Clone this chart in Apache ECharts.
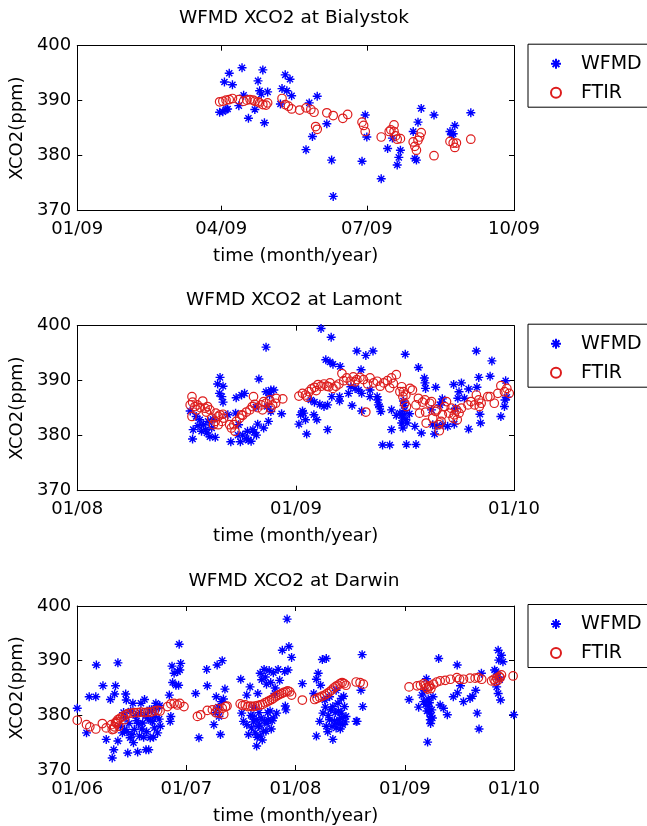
<!DOCTYPE html>
<html><head><meta charset="utf-8">
<script src="https://cdn.jsdelivr.net/npm/echarts@6/dist/echarts.min.js"></script>
<style>html,body{margin:0;padding:0;background:#fff}#c{width:647px;height:826px}</style>
</head><body><div id="c"></div>
<script>
// ---------- data ----------
const yTicks = [370, 380, 390, 400];
const bialystokXTicks = ['2009-01-01','2009-04-01','2009-07-01','2009-10-01'];
const lamontXTicks = ['2008-01-01','2009-01-01','2010-01-01'];
const darwinXTicks = ['2006-01-01','2007-01-01','2008-01-01','2009-01-01','2010-01-01'];
const panelTitles = ['WFMD XCO2 at Bialystok','WFMD XCO2 at Lamont','WFMD XCO2 at Darwin'];
const seriesNames = ['WFMD','FTIR'];
const xAxisName = 'time (month/year)';
const yAxisName = 'XCO2(ppm)';

const bialystokWFMD = [
['2009-03-31',387.9],['2009-04-03',393.4],['2009-04-06',395.0],['2009-04-08',392.9],['2009-04-05',388.5],['2009-04-04',388.4],['2009-04-02',388.0],['2009-04-14',396.0],['2009-04-12',389.1],['2009-04-15',391.0],['2009-04-18',386.8],['2009-04-22',388.4],['2009-04-24',393.6],['2009-04-27',395.6],['2009-04-25',391.8],['2009-04-26',391.2],['2009-04-28',386.0],['2009-04-30',391.6],['2009-05-11',394.7],['2009-05-14',393.9],['2009-05-09',392.2],['2009-05-12',391.8],['2009-05-15',390.9],['2009-05-08',389.4],['2009-05-26',389.6],['2009-05-31',390.8],['2009-06-06',385.8],['2009-05-28',383.5],['2009-05-24',381.1],['2009-06-09',379.2],['2009-06-10',372.6],['2009-06-28',379.0],['2009-06-30',387.4],['2009-07-01',383.4],['2009-07-10',375.8],['2009-07-14',381.3],['2009-07-17',383.2],['2009-07-20',378.3],['2009-07-21',379.7],['2009-07-22',381.0],['2009-07-30',384.4],['2009-08-02',386.1],['2009-08-04',388.6],['2009-07-31',379.5],['2009-08-01',379.2],['2009-08-12',387.4],['2009-08-22',384.4],['2009-08-24',384.0],['2009-08-25',385.5],['2009-08-23',383.8],['2009-09-04',387.8]
];
const bialystokFTIR = [
['2009-03-31',389.8],['2009-04-02',389.9],['2009-04-04',390.1],['2009-04-06',390.2],['2009-04-08',390.4],['2009-04-12',390.2],['2009-04-15',389.9],['2009-04-17',390.1],['2009-04-19',390.2],['2009-04-21',390.1],['2009-04-22',389.9],['2009-04-24',389.8],['2009-04-25',389.6],['2009-04-27',389.3],['2009-04-29',389.2],['2009-04-30',389.6],['2009-05-09',390.4],['2009-05-11',389.3],['2009-05-13',389.0],['2009-05-15',388.5],['2009-05-20',388.3],['2009-05-24',388.7],['2009-05-27',388.4],['2009-05-29',387.9],['2009-05-30',385.3],['2009-05-31',384.8],['2009-06-06',387.8],['2009-06-10',387.3],['2009-06-16',386.8],['2009-06-19',387.5],['2009-06-28',386.1],['2009-06-29',385.5],['2009-06-30',384.4],['2009-07-10',383.4],['2009-07-15',384.4],['2009-07-16',384.7],['2009-07-18',385.6],['2009-07-18',384.4],['2009-07-19',383.6],['2009-07-20',383.0],['2009-07-22',383.1],['2009-07-30',382.5],['2009-07-31',381.7],['2009-08-01',381.0],['2009-08-02',382.8],['2009-08-03',383.4],['2009-08-04',384.2],['2009-08-12',380.0],['2009-08-22',382.6],['2009-08-24',382.3],['2009-08-25',381.5],['2009-08-26',382.3],['2009-09-04',383.0]
];

const lamontWFMD = [
['2008-11-12',396.1],['2008-08-27',390.6],['2008-08-23',389.4],['2008-09-01',389.0],['2008-08-26',387.7],['2008-08-30',387.1],['2008-09-01',386.1],['2008-10-31',390.3],['2008-09-23',386.9],['2008-10-02',387.4],['2008-10-07',387.7],['2008-11-12',388.0],['2008-11-20',388.3],['2008-11-18',387.4],['2008-11-20',384.4],['2008-11-16',382.6],['2008-11-08',381.4],['2008-10-29',382.1],['2008-10-27',380.1],['2008-10-13',379.2],['2008-10-04',380.1],['2008-09-30',378.9],['2008-09-14',378.9],['2008-09-26',380.1],['2008-09-22',384.1],['2008-07-13',381.1],['2008-07-12',379.4],['2008-07-08',384.5],['2008-07-30',382.0],['2008-08-03',381.1],['2008-08-10',379.8],['2008-08-19',379.7],['2008-08-07',382.6],['2008-08-13',381.4],['2008-07-24',382.9],['2008-09-09',383.8],['2008-10-12',380.8],['2008-10-21',381.1],['2008-10-10',379.5],['2008-11-14',385.3],['2008-11-25',388.3],['2008-12-08',384.0],
['2008-07-18',383.5],['2008-07-21',381.8],['2008-08-05',380.5],['2008-08-15',383.0],['2008-07-27',380.8],['2008-10-18',379.0],['2008-10-23',380.6],['2008-09-27',382.0],['2008-10-26',385.2],
['2009-02-12',399.5],['2009-03-01',397.9],['2009-02-20',393.8],['2009-02-27',393.4],['2009-03-04',393.0],['2009-03-16',392.6],['2009-04-13',395.4],['2009-04-28',394.6],['2009-05-10',395.4],['2009-04-20',392.0],['2009-04-10',388.6],['2009-04-16',388.3],['2009-03-30',387.7],['2009-04-21',387.7],['2009-05-05',388.3],['2009-01-26',386.5],['2009-02-01',386.1],['2009-02-10',385.7],['2009-02-17',385.3],['2009-02-23',385.6],['2009-03-02',387.1],['2009-03-15',387.1],['2009-03-15',386.3],['2009-04-05',385.5],['2009-04-21',384.5],['2009-01-12',384.5],['2009-01-09',383.8],['2009-01-14',384.1],['2009-01-17',382.9],['2009-01-06',382.1],['2009-01-31',383.8],['2009-02-05',382.9],['2009-01-19',380.3],['2009-02-23',381.1],['2009-04-03',388.9],['2009-05-05',387.1],['2009-05-17',387.1],['2009-05-18',386.5],['2009-05-21',385.3],['2009-05-23',384.4],['2009-05-26',378.3],['2009-06-07',378.3],['2009-06-10',381.1],['2009-06-10',384.7],['2009-05-19',385.6],['2009-06-24',384.1],['2009-06-27',382.3],['2009-06-28',383.2],['2009-06-18',383.7],
['2009-07-03',394.8],['2009-07-25',392.4],['2009-08-04',390.5],['2009-08-05',389.6],['2009-08-06',388.6],['2009-08-23',388.8],['2009-09-22',389.3],['2009-10-05',389.6],['2009-10-01',388.0],['2009-10-17',388.5],['2009-10-31',388.8],['2009-11-03',390.6],['2009-10-30',395.4],['2009-11-25',393.6],['2009-11-22',390.8],['2009-12-18',390.0],['2009-12-17',386.5],['2009-12-20',387.0],['2009-12-16',385.3],['2009-12-10',383.5],['2009-11-05',383.9],['2009-11-06',382.3],['2009-10-17',381.2],['2009-07-05',378.4],['2009-07-21',378.4],['2009-07-19',381.7],['2009-07-30',380.5],['2009-06-29',381.4],['2009-06-28',383.8],['2009-07-10',384.0],['2009-08-18',382.0],['2009-08-21',380.3],['2009-09-04',382.0],['2009-09-12',381.7],['2009-09-23',382.1],['2009-09-02',386.1],['2009-09-03',386.7],['2009-08-30',385.6],['2009-08-16',384.7],['2009-09-29',386.8],['2009-10-10',386.8],['2009-09-25',385.0],['2009-08-25',381.8],
['2009-07-01',385.5],['2009-07-02',384.6],['2009-07-04',383.0],['2009-06-30',386.3],['2009-07-06',382.3]
];
const lamontFTIR = [
['2008-07-11',387.1],['2008-07-08',385.6],['2008-07-12',386.1],['2008-07-16',385.3],['2008-07-20',385.6],['2008-07-25',385.1],['2008-07-29',386.3],['2008-08-02',385.0],['2008-08-06',385.3],['2008-08-10',384.7],['2008-07-11',383.5],['2008-08-13',383.2],['2008-08-19',382.6],['2008-08-24',382.0],['2008-08-27',383.8],['2008-09-01',383.9],['2008-08-20',384.1],['2008-08-16',382.0],['2008-08-30',382.6],['2008-07-19',384.7],['2008-08-04',384.3],['2008-08-24',383.5],['2008-09-02',383.2],['2008-09-12',382.0],['2008-09-15',381.4],['2008-09-19',382.0],['2008-09-21',380.8],['2008-09-23',382.6],['2008-09-29',383.2],['2008-10-02',383.8],['2008-10-04',383.7],['2008-10-10',384.3],['2008-10-16',384.7],['2008-10-20',385.3],['2008-10-22',387.1],['2008-10-24',385.7],['2008-10-29',385.1],['2008-11-04',385.6],['2008-11-06',384.7],['2008-11-08',386.2],['2008-11-12',385.9],['2008-11-18',386.5],['2008-11-20',385.0],['2008-11-23',385.6],['2008-11-28',385.9],['2008-11-29',386.8],['2008-12-10',386.7],
['2009-01-06',387.2],['2009-01-12',387.7],['2009-01-17',387.4],['2009-01-23',388.0],['2009-01-27',388.5],['2009-02-01',388.8],['2009-02-07',389.3],['2009-02-12',389.0],['2009-02-17',389.4],['2009-02-22',389.0],['2009-02-27',389.6],['2009-03-04',388.6],['2009-03-14',389.4],['2009-03-19',391.3],['2009-03-22',390.0],['2009-03-27',390.5],['2009-04-02',389.9],['2009-04-07',390.7],['2009-04-13',390.2],['2009-04-18',390.6],['2009-04-24',390.2],['2009-04-28',384.3],['2009-05-05',390.5],['2009-05-11',389.6],['2009-05-17',389.9],['2009-05-22',389.0],['2009-05-28',389.6],['2009-06-03',390.0],['2009-06-10',390.5],['2009-06-18',391.1],['2009-06-24',388.0],['2009-06-29',387.1],
['2009-01-20',387.0],['2009-02-04',388.2],['2009-02-25',388.9],['2009-03-09',389.0],['2009-04-10',389.8],['2009-05-01',389.4],['2009-06-13',389.5],['2009-06-07',388.7],
['2009-06-27',388.9],['2009-06-30',388.0],['2009-07-04',387.4],['2009-07-11',388.6],['2009-07-15',388.3],['2009-07-02',385.9],['2009-07-05',385.3],['2009-07-21',385.6],['2009-07-25',386.8],['2009-07-27',384.1],['2009-08-01',386.1],['2009-08-05',386.5],['2009-08-07',382.3],['2009-08-06',384.3],['2009-08-13',385.9],['2009-08-16',386.2],['2009-08-18',383.2],['2009-08-23',384.4],['2009-08-25',384.7],['2009-08-28',382.0],['2009-08-29',380.9],['2009-09-01',382.6],['2009-09-03',383.8],['2009-09-07',385.3],['2009-09-10',386.2],['2009-09-14',384.1],['2009-09-18',385.0],['2009-09-21',383.2],['2009-09-23',383.8],['2009-09-27',384.7],['2009-10-01',384.1],['2009-10-05',385.0],['2009-09-28',382.9],['2009-10-16',385.6],['2009-10-21',386.2],['2009-10-27',385.6],['2009-10-30',387.4],['2009-11-03',386.5],['2009-11-04',385.3],['2009-11-07',385.9],['2009-11-18',387.1],['2009-11-22',387.1],['2009-11-29',385.9],['2009-12-05',387.7],['2009-12-10',389.1],['2009-12-16',388.0],['2009-12-20',388.6],['2009-12-24',387.7]
];

const darwinWFMD = [
['2006-01-01',381.3],['2006-02-01',376.8],['2006-02-10',383.4],['2006-03-04',383.4],['2006-03-06',389.2],['2006-03-28',385.4],['2006-04-08',375.6],['2006-04-22',382.9],['2006-04-28',372.2],['2006-05-03',373.7],['2006-05-06',383.9],['2006-05-09',385.4],['2006-05-17',389.6],['2006-05-17',375.3],['2006-06-01',376.8],['2006-06-08',377.4],['2006-06-12',383.9],['2006-06-14',382.8],['2006-06-19',373.1],['2006-06-27',375.9],['2006-07-06',382.2],['2006-07-11',377.4],['2006-07-22',373.3],['2006-07-28',376.2],['2006-08-02',382.2],['2006-08-08',378.6],['2006-08-14',382.9],['2006-08-19',373.7],['2006-08-28',373.7],['2006-09-02',375.9],['2006-09-10',378.9],['2006-09-16',377.7],['2006-09-21',382.2],['2006-09-27',376.8],['2006-10-02',379.3],['2006-11-05',383.7],['2006-11-08',378.9],['2006-11-14',389.0],['2006-11-21',387.7],['2006-11-27',385.5],['2006-12-06',385.5],['2006-12-08',393.0],['2006-12-13',389.5],['2006-12-10',388.3],
['2006-06-23',378.5],['2006-07-15',380.0],['2006-07-03',376.5],['2006-08-11',376.0],['2006-08-24',379.5],['2006-09-07',381.0],['2006-06-05',380.5],['2006-10-04',381.8],['2006-05-25',378.0],['2006-07-25',378.5],['2006-09-13',376.0],['2006-11-10',379.8],['2006-11-16',386.0],['2006-12-03',388.0],
['2006-06-10',379.5],['2006-06-16',377.0],['2006-06-29',380.8],['2006-07-08',375.0],['2006-07-19',379.0],['2006-07-30',380.5],['2006-08-05',377.5],['2006-08-17',380.0],['2006-08-21',377.0],['2006-08-31',381.0],['2006-09-04',379.0],['2006-09-19',379.8],['2006-09-24',381.3],['2006-10-06',378.0],
['2007-02-01',384.0],['2007-02-12',375.9],['2007-03-10',388.4],['2007-03-12',385.4],['2007-04-11',383.4],['2007-04-14',389.2],['2007-05-01',390.0],['2007-05-10',384.8],['2007-04-20',379.8],['2007-04-03',378.3],['2007-04-25',376.5],['2007-04-18',381.5],['2007-04-28',382.5],['2007-05-05',383.0],['2007-04-08',380.5],
['2007-12-04',397.6],['2007-11-18',391.9],['2007-12-10',392.6],['2007-12-19',390.6],['2007-07-02',386.6],['2007-08-02',385.2],['2007-09-05',387.7],['2007-09-18',388.4],['2007-10-19',387.8],['2007-11-04',388.4],['2007-09-26',385.7],['2007-11-09',386.4],['2007-11-26',388.0],['2007-12-07',388.3],['2007-07-22',383.7],['2007-07-05',380.4],['2007-07-11',378.9],['2007-07-22',378.3],['2007-08-07',377.7],['2007-08-19',376.8],['2007-08-24',374.4],['2007-09-05',376.2],['2007-09-16',377.1],['2007-09-24',377.1],['2007-08-10',379.8],['2007-10-02',379.2],['2007-10-19',379.5],['2007-10-30',380.4],['2007-11-30',381.0],['2007-11-28',381.7],
['2007-09-10',386.5],['2007-09-22',387.0],['2007-10-05',388.2],['2007-10-10',386.0],['2007-10-25',385.0],['2007-08-28',384.0],['2007-08-15',381.5],['2007-09-01',380.5],['2007-09-28',378.5],['2007-10-12',377.5],['2007-08-30',378.0],['2007-10-24',384.0],
['2007-08-05',380.0],['2007-08-13',378.8],['2007-08-22',379.2],['2007-09-03',378.2],['2007-09-08',379.5],['2007-09-12',375.5],['2007-09-19',379.0],['2007-09-30',380.5],['2007-10-08',380.8],['2007-10-15',379.0],['2007-07-28',376.5],['2007-08-26',376.0],
['2008-01-24',385.8],['2008-03-02',384.0],['2008-03-11',386.6],['2008-03-17',387.7],['2008-03-31',390.2],['2008-04-13',390.4],['2008-03-11',376.2],['2008-03-22',378.9],['2008-04-02',380.4],['2008-04-13',378.0],['2008-04-24',379.2],['2008-05-05',375.6],['2008-05-16',377.7],['2008-05-05',381.6],['2008-05-22',382.2],['2008-06-02',380.4],['2008-06-13',381.6],['2008-05-27',379.2],['2008-06-07',378.3],['2008-06-18',379.8],['2008-07-22',378.9],['2008-07-25',378.9],['2008-08-07',384.6],['2008-08-13',381.6],['2008-08-11',391.1],['2008-04-08',382.8],['2008-04-24',383.4],['2008-05-16',384.6],['2008-06-02',383.1],
['2008-04-18',377.0],['2008-05-10',379.0],['2008-04-28',381.0],['2008-05-30',377.5],['2008-06-10',383.5],['2008-03-25',385.5],
['2008-04-20',380.0],['2008-05-02',378.0],['2008-05-13',380.5],['2008-05-19',378.5],['2008-05-24',380.8],['2008-06-05',379.5],['2008-06-15',378.8],['2008-04-10',381.5],
['2009-01-15',382.9],['2009-02-16',381.5],['2009-02-27',383.7],['2009-03-05',382.5],['2009-03-14',386.7],['2009-03-18',375.1],['2009-03-22',381.6],['2009-03-25',380.4],['2009-03-27',379.2],['2009-03-29',379.8],['2009-04-05',383.4],['2009-04-24',390.4],['2009-04-29',381.9],['2009-05-10',381.3],['2009-05-23',380.1],['2009-06-25',389.2],['2009-06-12',383.4],['2009-06-26',384.1],['2009-07-06',385.4],['2009-07-16',382.5],['2009-08-07',383.1],['2009-08-15',383.5],['2009-08-26',384.6],['2009-08-31',380.4],['2009-09-06',377.5],['2009-09-14',387.7],['2009-10-28',388.3],['2009-11-09',391.9],['2009-11-20',391.0],['2009-11-25',389.8],['2009-11-11',390.1],['2009-11-04',385.2],['2009-11-09',384.0],['2009-11-17',382.8],['2009-12-31',380.1],
['2009-03-08',384.5],['2009-03-20',383.0],['2009-03-12',382.0],['2009-04-01',381.0],['2009-11-02',388.0],['2009-11-14',386.5],['2009-11-07',387.0],
['2009-03-16',380.8],['2009-03-24',382.3],['2009-03-28',378.5],['2009-04-03',379.5]
];
const darwinFTIR = [
['2006-01-01',379.1],['2006-02-01',378.3],['2006-02-12',377.9],['2006-03-04',377.5],['2006-03-26',378.5],['2006-04-08',377.7],['2006-04-25',378.3],['2006-05-03',377.5],['2006-05-09',378.7],['2006-05-17',379.2],['2006-05-25',379.5],['2006-06-03',379.8],['2006-06-12',380.1],['2006-06-19',380.3],['2006-06-30',380.4],['2006-07-11',380.5],['2006-07-22',380.5],['2006-08-02',380.6],['2006-08-14',380.5],['2006-08-25',380.6],['2006-09-05',380.6],['2006-09-16',380.8],['2006-09-27',380.9],['2006-10-05',380.8],['2006-10-30',381.6],['2006-11-10',382.1],['2006-11-21',382.2],['2006-12-02',381.9],['2006-12-10',382.2],['2006-12-24',381.6],['2006-04-28',377.4],['2006-05-05',377.9],['2006-05-12',378.5],['2006-05-15',378.9],['2006-05-20',378.0],['2006-06-07',379.2],
['2007-02-07',379.8],['2007-02-18',380.1],['2007-03-12',380.9],['2007-03-29',381.0],['2007-04-09',380.5],['2007-04-20',380.4],['2007-05-01',381.3],['2007-05-12',381.6],['2007-04-15',381.2],['2007-05-06',380.2],
['2007-05-17',381.7],['2007-06-30',382.1],['2007-07-17',381.9],['2007-08-03',381.7],['2007-08-19',381.7],['2007-09-05',381.9],['2007-09-21',382.3],['2007-10-06',382.7],['2007-10-19',383.1],['2007-11-01',383.6],['2007-11-16',384.0],['2007-11-30',384.3],['2007-12-13',384.3],['2007-12-19',383.7],
['2007-07-08',381.8],['2007-07-26',381.6],['2007-08-11',381.6],['2007-08-27',381.8],['2007-09-13',382.0],['2007-09-29',382.5],['2007-10-13',382.9],['2007-10-26',383.4],['2007-11-08',383.8],['2007-11-23',384.2],['2007-12-06',384.5],
['2008-01-24',382.8],['2008-03-05',382.9],['2008-03-22',383.3],['2008-04-08',383.7],['2008-04-24',384.3],['2008-05-08',385.0],['2008-05-22',385.5],['2008-06-05',386.0],['2008-06-18',385.5],['2008-07-22',386.1],['2008-08-04',386.0],['2008-08-15',385.7],
['2008-03-13',383.1],['2008-03-30',383.5],['2008-04-16',384.0],['2008-05-01',384.6],['2008-05-15',385.3],['2008-05-29',385.8],['2008-06-12',385.8],
['2009-01-15',385.2],['2009-02-11',385.4],['2009-02-22',385.5],['2009-03-05',385.8],['2009-03-14',385.1],['2009-03-22',385.2],['2009-03-29',384.9],['2009-04-07',385.7],['2009-04-18',386.1],['2009-04-29',386.3],['2009-05-16',386.4],['2009-06-02',386.6],['2009-06-24',386.9],['2009-07-03',386.6],['2009-07-16',386.6],['2009-08-07',386.8],['2009-08-24',386.8],['2009-09-04',386.9],['2009-09-15',386.6],['2009-10-18',386.3],['2009-10-26',386.6],['2009-11-04',386.8],['2009-11-13',387.1],['2009-11-20',387.4],['2009-12-29',387.2],
['2009-03-10',385.5],['2009-03-18',384.8],['2009-03-25',385.4],['2009-11-08',386.4],['2009-11-16',386.9],['2009-10-30',386.2]
];

// ---------- chart ----------
const F = 'DejaVu Sans';
const BLUE = '#0000ff', RED = '#dd1c1c';
const toTs = s => { const p = s.split('-'); return new Date(+p[0], +p[1] - 1, +p[2]).getTime(); };
const pad = n => (n < 10 ? '0' : '') + n;
const fmt = v => { const d = new Date(v + 6 * 3600 * 1000); return pad(d.getMonth() + 1) + '/' + pad(d.getFullYear() % 100); };
const STAR = 'path://M5,0L5,10M0,5L10,5M1.6,1.6L8.4,8.4M1.6,8.4L8.4,1.6';

const panels = [
  {ticks: bialystokXTicks, wfmd: bialystokWFMD, ftir: bialystokFTIR, title: panelTitles[0], top: 45.7, h: 165, titleTop: 9},
  {ticks: lamontXTicks, wfmd: lamontWFMD, ftir: lamontFTIR, title: panelTitles[1], top: 325.7, h: 165, titleTop: 291},
  {ticks: darwinXTicks, wfmd: darwinWFMD, ftir: darwinFTIR, title: panelTitles[2], top: 606, h: 164.5, titleTop: 572}
];

const option = {animation: false, backgroundColor: '#fff', title: [], grid: [], xAxis: [], yAxis: [], legend: [], series: []};
const txt = {color: '#000', fontFamily: F, fontSize: 18};

panels.forEach((p, i) => {
  const tickTs = p.ticks.map(toTs);
  option.title.push({text: p.title, left: 294, top: p.titleTop, textAlign: 'center', padding: 0,
    textStyle: {color: '#000', fontFamily: F, fontSize: 18.5, fontWeight: 'normal'}});
  option.grid.push({left: 74, width: 440, top: p.top, height: p.h});
  const baseX = {type: 'value', gridIndex: i, min: tickTs[0], max: tickTs[tickTs.length - 1],
    splitLine: {show: false}, axisLine: {onZero: false, lineStyle: {color: '#000', width: 1}},
    axisTick: {inside: true, length: 5, customValues: tickTs, lineStyle: {color: '#000'}}};
  option.xAxis.push(Object.assign({}, baseX, {position: 'bottom',
    axisLabel: Object.assign({customValues: tickTs, formatter: fmt, margin: 10, showMinLabel: true, showMaxLabel: true}, txt),
    name: xAxisName, nameLocation: 'middle', nameGap: 37, nameTextStyle: txt}));
  option.xAxis.push(Object.assign({}, baseX, {position: 'top', axisLabel: {show: false}}));
  const baseY = {type: 'value', gridIndex: i, min: yTicks[0], max: yTicks[yTicks.length - 1], interval: 10,
    splitLine: {show: false}, axisLine: {show: true, onZero: false, lineStyle: {color: '#000', width: 1}},
    axisTick: {show: true, inside: true, length: 5, lineStyle: {color: '#000'}}};
  option.yAxis.push(Object.assign({}, baseY, {position: 'left',
    axisLabel: Object.assign({margin: 6}, txt),
    name: yAxisName, nameLocation: 'middle', nameGap: 47, nameTextStyle: txt}));
  option.yAxis.push(Object.assign({}, baseY, {position: 'right', axisLabel: {show: false}}));
  option.legend.push({left: 528, top: p.top - 1.5, orient: 'vertical', data: seriesNames, selectedMode: false,
    borderColor: '#000', borderWidth: 1, padding: [10, 90, 5, 22], itemGap: 10, itemWidth: 40, itemHeight: 10,
    textStyle: {color: '#000', fontFamily: F, fontSize: 19}});
  option.series.push({type: 'scatter', name: seriesNames[0], xAxisIndex: 2 * i, yAxisIndex: 2 * i,
    symbol: STAR, symbolSize: 9, itemStyle: {color: BLUE, borderColor: BLUE, borderWidth: 1.4, opacity: 1},
    data: p.wfmd.map(d => [toTs(d[0]), d[1]])});
  option.series.push({type: 'scatter', name: seriesNames[1], xAxisIndex: 2 * i, yAxisIndex: 2 * i,
    symbol: 'circle', symbolSize: 8.5, itemStyle: {color: 'rgba(255,255,255,0)', borderColor: RED, borderWidth: 1.2, opacity: 1},
    data: p.ftir.map(d => [toTs(d[0]), d[1]])});
});

const chart = echarts.init(document.getElementById('c'), null, {renderer: 'canvas'});
chart.setOption(option);
</script>
</body></html>
